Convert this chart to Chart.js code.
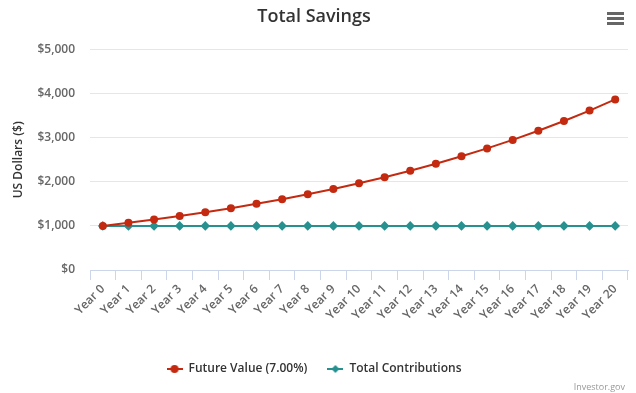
<!DOCTYPE html>
<html>
<head>
<meta charset="utf-8">
<script src="https://cdn.jsdelivr.net/npm/chart.js@4"></script>
<style>
html,body{margin:0;padding:0;background:#fff;}
#wrap{position:relative;width:636px;height:393px;}
canvas{display:block;}
#credits{position:absolute;right:11px;top:380px;font:9px "Open Sans",sans-serif;color:#999;}
#menu{position:absolute;left:607px;top:12px;width:17px;height:13px;}
#menu div{position:absolute;left:0;width:17px;height:3px;background:#666;}
</style>
</head>
<body>
<div id="wrap">
<canvas id="c" width="636" height="393"></canvas>
<div id="menu"><div style="top:0"></div><div style="top:5px"></div><div style="top:10px"></div></div>
<div id="credits">Investor.gov</div>
</div>
<script>
const categories = ["Year 0","Year 1","Year 2","Year 3","Year 4","Year 5","Year 6","Year 7","Year 8","Year 9","Year 10","Year 11","Year 12","Year 13","Year 14","Year 15","Year 16","Year 17","Year 18","Year 19","Year 20"];
const futureValue = [1000,1070,1145,1225,1311,1403,1501,1606,1718,1838,1967,2105,2252,2410,2579,2759,2952,3159,3380,3617,3870];
const totalContributions = [1000,1000,1000,1000,1000,1000,1000,1000,1000,1000,1000,1000,1000,1000,1000,1000,1000,1000,1000,1000,1000];
const seriesNames = ["Future Value (7.00%)","Total Contributions"];
const yTicks = [0,1000,2000,3000,4000,5000];

const RED = '#c32a10';
const TEAL = '#279190';
const FONT = '"Open Sans", sans-serif';

function legendIcon(color, diamond){
  const c = document.createElement('canvas');
  c.width = 16; c.height = 10;
  const x = c.getContext('2d');
  x.strokeStyle = color; x.lineWidth = 2;
  x.beginPath(); x.moveTo(0,5); x.lineTo(16,5); x.stroke();
  x.fillStyle = color;
  x.beginPath();
  if (diamond){ x.moveTo(8,1); x.lineTo(12,5); x.lineTo(8,9); x.lineTo(4,5); x.closePath(); }
  else { x.arc(8,5,4,0,Math.PI*2); }
  x.fill();
  return c;
}
const icons = [legendIcon(RED,false), legendIcon(TEAL,true)];

new Chart(document.getElementById('c'), {
  type: 'line',
  data: {
    labels: categories,
    datasets: [
      {label: seriesNames[0], data: futureValue, borderColor: RED, backgroundColor: RED,
       borderWidth: 2, pointRadius: 4, pointBorderWidth: 0, pointHoverRadius: 4, pointStyle: 'circle', tension: 0},
      {label: seriesNames[1], data: totalContributions, borderColor: TEAL, backgroundColor: TEAL,
       borderWidth: 2, pointRadius: 4.8, pointBorderWidth: 0, pointHoverRadius: 4.8, pointStyle: 'rectRot', tension: 0}
    ]
  },
  options: {
    responsive: false,
    animation: false,
    layout: {padding: {left: 0, right: 8, top: 0, bottom: 8}},
    plugins: {
      tooltip: {enabled: false},
      title: {display: true, text: 'Total Savings', color: '#333',
        font: {family: FONT, size: 18, weight: '600'}, padding: {top: 6, bottom: 22}},
      legend: {
        position: 'bottom',
        labels: {
          usePointStyle: true, pointStyleWidth: 16, padding: 20,
          color: '#333', font: {family: FONT, size: 12, weight: '600'},
          generateLabels(chart){
            return chart.data.datasets.map((d,i)=>({
              text: d.label, fillStyle: d.borderColor, strokeStyle: d.borderColor,
              pointStyle: icons[i], datasetIndex: i, hidden: false, lineWidth: 0, fontColor: '#333'
            }));
          }
        }
      }
    },
    scales: {
      x: {
        type: 'category', offset: true,
        grid: {display: true, drawOnChartArea: false, drawTicks: true, tickLength: 10, color: '#ccd6eb', offset: true},
        border: {display: true, color: '#ccd6eb', width: 1},
        ticks: {maxRotation: 45, minRotation: 45, autoSkip: false, padding: 2,
          color: '#666', font: {family: FONT, size: 12, weight: '600'}},
        afterFit(s){ s.height = 73; }
      },
      y: {
        min: 0, max: 5000,
        afterBuildTicks(s){ s.ticks = yTicks.map(v=>({value:v})); },
        grid: {color: '#e6e6e6', drawTicks: false},
        border: {display: false},
        ticks: {padding: 15, color: '#666', font: {family: FONT, size: 12, weight: '600'},
          callback: v => '$' + v.toLocaleString('en-US')},
        title: {display: true, text: 'US Dollars ($)', color: '#333',
          font: {family: FONT, size: 12, weight: '600'}, padding: {top: 11, bottom: 0}},
        afterFit(s){ s.width = 90; }
      }
    }
  }
});
</script>
</body>
</html>
